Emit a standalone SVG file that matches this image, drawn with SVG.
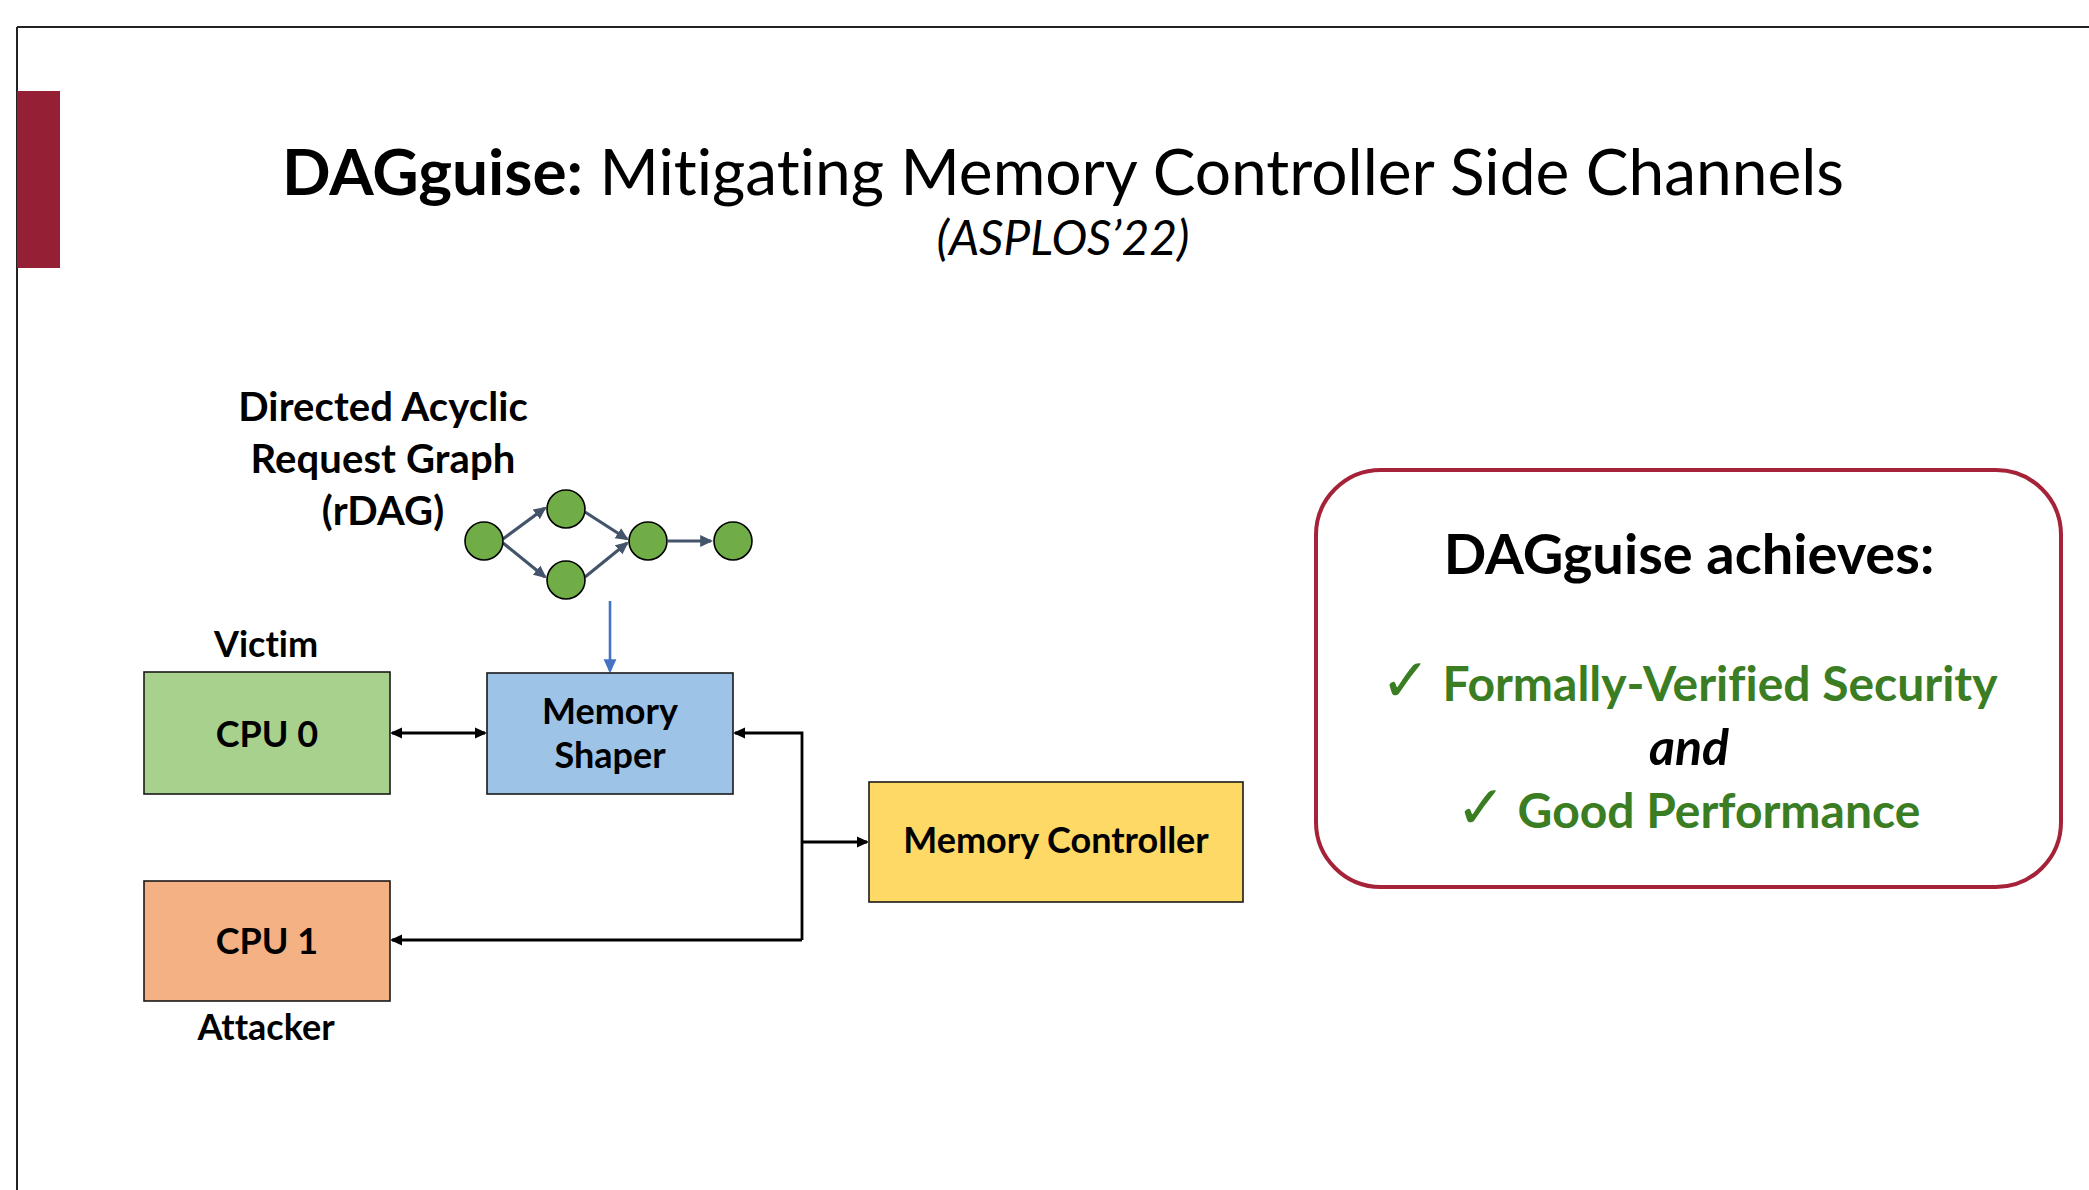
<svg xmlns="http://www.w3.org/2000/svg" width="2089" height="1190" viewBox="0 0 2089 1190">
<defs>
<style>
text{font-family:Lato,"Open Sans","Liberation Sans",sans-serif;fill:#000;font-variant-ligatures:none}
.b{font-weight:700}
.lbl{font-size:36px;font-weight:700;text-anchor:middle}
.dl{font-size:40px;font-weight:700;text-anchor:middle;letter-spacing:0.1px}
.box{stroke:#1a1a1a;stroke-width:1.6}
.dagn{fill:#70AD47;stroke:#000;stroke-width:1.6}
.dage{stroke:#44546A;stroke-width:3.2;fill:none;marker-end:url(#hs)}
.conn{stroke:#000;stroke-width:2.8;fill:none}
.grn{fill:#3A7D22;font-size:48px;font-weight:700;text-anchor:middle}
.ck{font-family:"DejaVu Sans",sans-serif;font-weight:400;font-size:60px}
</style>
<marker id="hk" viewBox="0 0 12 12" refX="10" refY="6" markerWidth="12" markerHeight="12" markerUnits="userSpaceOnUse" orient="auto-start-reverse"><path d="M0,0.5 L12,6 L0,11.5 z" fill="#000"/></marker>
<marker id="hs" viewBox="0 0 12 12" refX="10" refY="6" markerWidth="13" markerHeight="13" markerUnits="userSpaceOnUse" orient="auto"><path d="M0,0.5 L12,6 L0,11.5 z" fill="#44546A"/></marker>
<marker id="hb" viewBox="0 0 12 12" refX="10" refY="6" markerWidth="14" markerHeight="14" markerUnits="userSpaceOnUse" orient="auto"><path d="M0,0.5 L12,6 L0,11.5 z" fill="#4472C4"/></marker>
</defs>
<rect width="2089" height="1190" fill="#fff"/>
<g id="frame">
<line x1="17" y1="27" x2="2089" y2="27" stroke="#222" stroke-width="2"/>
<line x1="17" y1="27" x2="17" y2="1190" stroke="#222" stroke-width="2"/>
<rect x="17" y="91" width="43" height="177" fill="#952036"/>
</g>
<g id="title">
<text x="1063" y="195" font-size="64" text-anchor="middle"><tspan class="b">DAGguise:</tspan> Mitigating Memory Controller Side Channels</text>
<text x="1063" y="255" font-size="48" font-style="italic" text-anchor="middle">(ASPLOS’22)</text>
</g>
<g id="rdag-label">
<text class="dl" x="383" y="421">Directed Acyclic</text>
<text class="dl" x="383" y="473">Request Graph</text>
<text class="dl" x="383" y="525">(rDAG)</text>
</g>
<g id="connectors">
<line class="dage" x1="503" y1="539" x2="545" y2="508"/>
<line class="dage" x1="503" y1="543" x2="545" y2="577"/>
<line class="dage" x1="585" y1="512" x2="627" y2="539"/>
<line class="dage" x1="585" y1="577" x2="627" y2="543"/>
<line class="dage" x1="668" y1="541" x2="711" y2="541"/>
<line x1="610" y1="601" x2="610" y2="671" stroke="#4472C4" stroke-width="2.6" marker-end="url(#hb)"/>
<line class="conn" x1="392" y1="733" x2="485" y2="733" marker-start="url(#hk)" marker-end="url(#hk)"/>
<polyline class="conn" points="802,940 802,733 735,733" marker-end="url(#hk)"/>
<line class="conn" x1="802" y1="842" x2="867" y2="842" marker-end="url(#hk)"/>
<line class="conn" x1="802" y1="940" x2="392" y2="940" marker-end="url(#hk)"/>
</g>
<g id="rdag">
<circle class="dagn" cx="484" cy="541" r="19"/>
<circle class="dagn" cx="566" cy="509" r="19"/>
<circle class="dagn" cx="566" cy="580" r="19"/>
<circle class="dagn" cx="648" cy="541" r="19"/>
<circle class="dagn" cx="733" cy="541" r="19"/>
</g>
<g id="cpu0">
<text class="lbl" x="266" y="657">Victim</text>
<rect class="box" x="144" y="672" width="246" height="122" fill="#A9D18E"/>
<text class="lbl" x="267" y="747">CPU 0</text>
</g>
<g id="memory-shaper">
<rect class="box" x="487" y="673" width="246" height="121" fill="#9DC3E6"/>
<text class="lbl" x="610" y="724">Memory</text>
<text class="lbl" x="610" y="768">Shaper</text>
</g>
<g id="cpu1">
<rect class="box" x="144" y="881" width="246" height="120" fill="#F4B183"/>
<text class="lbl" x="267" y="954">CPU 1</text>
<text class="lbl" x="266" y="1040">Attacker</text>
</g>
<g id="memory-controller">
<rect class="box" x="869" y="782" width="374" height="120" fill="#FFD966"/>
<text class="lbl" x="1056" y="853" font-size="37">Memory Controller</text>
</g>
<g id="achieves">
<rect x="1316" y="470" width="745" height="417" rx="65" ry="65" fill="#fff" stroke="#A52238" stroke-width="4"/>
<text x="1689" y="574" font-size="56" class="b" text-anchor="middle">DAGguise achieves:</text>
<text class="grn" x="1689" y="701"><tspan class="ck">✓</tspan> Formally-Verified Security</text>
<text x="1689" y="765" font-size="50" font-weight="700" font-style="italic" text-anchor="middle">and</text>
<text class="grn" x="1688" y="828"><tspan class="ck">✓</tspan> Good Performance</text>
</g>
</svg>
